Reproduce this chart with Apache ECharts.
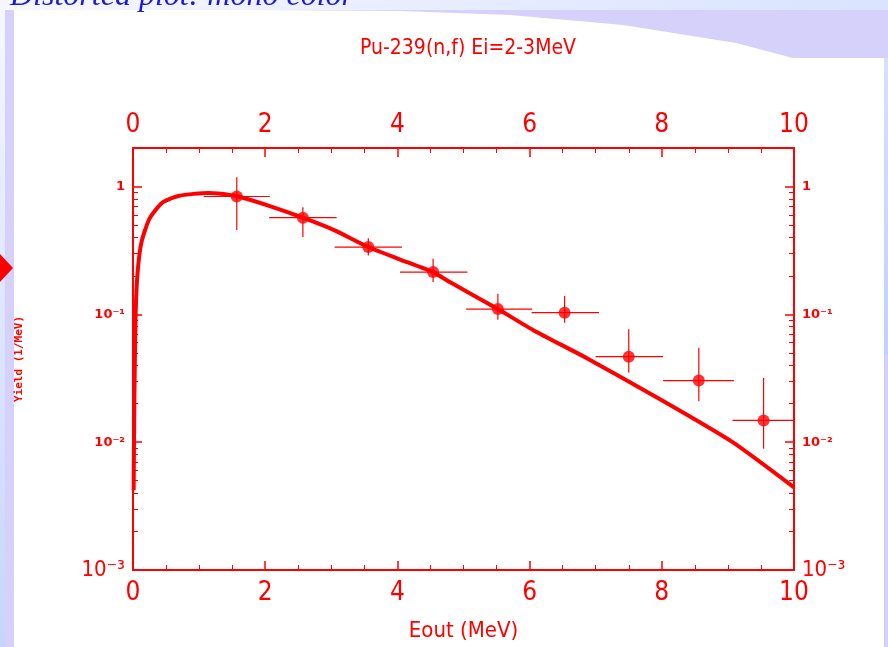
<!DOCTYPE html>
<html>
<head>
<meta charset="utf-8">
<title>Pu-239(n,f) Ei=2-3MeV</title>
<script src="https://cdn.jsdelivr.net/npm/echarts@6/dist/echarts.min.js"></script>
<style>
  html, body { margin: 0; padding: 0; }
  #chart { width: 888px; height: 647px; }
</style>
</head>
<body>
<div id="chart"></div>
<script>
// calculated spectrum (thick line)
const curveE = [0.01, 0.02, 0.04, 0.07, 0.13, 0.25, 0.44, 0.70, 1.14, 1.29, 1.59, 2.07, 2.57, 3.05, 3.56, 4.01, 4.54, 4.80, 5.52, 6.05, 6.86, 8.0, 9.06, 10.0];
const curveY = [0.0042, 0.0203, 0.1, 0.214, 0.37, 0.56, 0.745, 0.847, 0.89, 0.88, 0.835, 0.703, 0.57, 0.454, 0.336, 0.272, 0.214, 0.178, 0.110, 0.0755, 0.0455, 0.0213, 0.0101, 0.00443];

// measured points + error bars
const pointE = [1.57, 2.57, 3.56, 4.54, 5.52, 6.53, 7.5, 8.56, 9.54];
const pointY = [0.835, 0.57, 0.336, 0.214, 0.110, 0.103, 0.0466, 0.0303, 0.0148];
const pointYLow = [0.456, 0.403, 0.289, 0.179, 0.0906, 0.086, 0.035, 0.0209, 0.0089];
const pointYHigh = [1.18, 0.689, 0.394, 0.272, 0.145, 0.139, 0.0763, 0.0547, 0.0318];
const pointELow = [1.07, 2.06, 3.05, 4.04, 5.04, 6.03, 7.0, 8.02, 9.07];
const pointEHigh = [2.07, 3.08, 4.07, 5.06, 6.04, 7.05, 8.02, 9.09, 10.0];

// tick labels
const yDecades = [0.001, 0.01, 0.1, 1];
const yDecadeLabels = ['10⁻³', '10⁻²', '10⁻¹', '1'];

const RED = '#ff0000';
const NARROW = "'Liberation Sans Narrow', 'DejaVu Sans Condensed', sans-serif";

// 2..9 ticks inside every decade
let yMinor = [];
yDecades.forEach(function (d) {
  for (let k = 2; k <= 9; k++) {
    if (k * d <= 2) yMinor.push(+(k * d).toPrecision(3));
  }
});

function yLabel(value) {
  for (let i = 0; i < yDecades.length; i++) {
    if (Math.abs(value / yDecades[i] - 1) < 1e-6) {
      return i === 0 ? '{big|' + yDecadeLabels[i] + '}' : yDecadeLabels[i];
    }
  }
  return '';
}

function yAxisMajor(pos) {
  return {
    type: 'log',
    position: pos,
    min: 0.001,
    max: 2,
    axisLine: { show: true, lineStyle: { color: RED, width: 2 } },
    axisTick: { inside: true, length: 9, customValues: yDecades, lineStyle: { color: RED, width: 1.5 } },
    axisLabel: {
      customValues: yDecades,
      formatter: yLabel,
      color: RED,
      fontSize: 13,
      fontWeight: 'bold',
      fontFamily: 'DejaVu Sans',
      margin: 8,
      rich: { big: { fontSize: 22, fontWeight: 'normal', fontFamily: NARROW, color: RED } }
    },
    splitLine: { show: false }
  };
}

function yAxisMinor(pos) {
  return {
    type: 'log',
    position: pos,
    min: 0.001,
    max: 2,
    axisLine: { show: false },
    axisTick: { inside: true, length: 5, customValues: yMinor, lineStyle: { color: RED, width: 1 } },
    axisLabel: { show: false },
    splitLine: { show: false }
  };
}

function xAxisCfg(pos) {
  return {
    type: 'value',
    position: pos,
    min: 0,
    max: 10,
    interval: 2,
    axisLine: { show: true, lineStyle: { color: RED, width: 2 } },
    axisTick: { inside: true, length: 9, lineStyle: { color: RED, width: 1.5 } },
    minorTick: { show: true, splitNumber: 4, length: 5, lineStyle: { color: RED, width: 1 } },
    axisLabel: { color: RED, fontSize: 26, fontFamily: NARROW, margin: 10 },
    splitLine: { show: false }
  };
}

const chart = echarts.init(document.getElementById('chart'));

let xBottom = xAxisCfg('bottom');
xBottom.name = 'Eout (MeV)';
xBottom.nameLocation = 'middle';
xBottom.nameGap = 50;
xBottom.nameTextStyle = { color: RED, fontSize: 22, fontFamily: NARROW };

let yLeft = yAxisMajor('left');
yLeft.name = 'Yield (1/MeV)';
yLeft.nameLocation = 'middle';
yLeft.nameGap = 108;
yLeft.nameTextStyle = { color: RED, fontSize: 11, fontWeight: 'bold', fontFamily: 'DejaVu Sans Mono' };

chart.setOption({
  backgroundColor: {
    type: 'linear', x: 0, y: 0, x2: 0.3, y2: 1,
    colorStops: [{ offset: 0, color: '#f6f7ff' }, { offset: 1, color: '#bccfff' }]
  },
  animation: false,
  graphic: [
    { type: 'rect', z: -10, shape: { x: 14, y: 10, width: 870, height: 637 }, style: { fill: '#ffffff' } },
    { type: 'rect', z: -9, shape: { x: 5, y: 10, width: 9, height: 637 }, style: { fill: '#d6d1fb' } },
    { type: 'rect', z: -9, shape: { x: 885, y: 355, width: 3, height: 292 }, style: { fill: '#d6d1fb' } },
    {
      type: 'polygon', z: -9,
      shape: { points: [[253, 10], [888, 10], [888, 58], [793, 58], [736, 43], [623, 25], [510, 15], [400, 11]] },
      style: { fill: '#d6d1fb' }
    },
    {
      type: 'text', z: -8, x: 10, y: 13,
      style: { text: 'Distorted plot: mono color', fill: '#1a1ad6', font: 'italic 32px "Liberation Serif"', verticalAlign: 'bottom' }
    },
    { type: 'polygon', z: -8, shape: { points: [[-13, 268], [0, 254], [13, 268], [0, 282]] }, style: { fill: RED } }
  ],
  title: {
    text: 'Pu-239(n,f) Ei=2-3MeV',
    left: 463,
    top: 33,
    textAlign: 'center',
    textStyle: { color: RED, fontSize: 21, fontWeight: 'normal', fontFamily: NARROW }
  },
  grid: { left: 133, right: 94, top: 148, bottom: 76 },
  xAxis: [xBottom, xAxisCfg('top')],
  yAxis: [yLeft, yAxisMinor('left'), yAxisMajor('right'), yAxisMinor('right')],
  series: [
    {
      name: 'calc',
      type: 'line',
      data: curveE.map(function (e, i) { return [e, curveY[i]]; }),
      showSymbol: false,
      smooth: 0.2,
      lineStyle: { color: RED, width: 4 },
      z: 3
    },
    {
      name: 'errors',
      type: 'custom',
      data: pointE.map(function (e, i) {
        return [e, pointY[i], pointELow[i], pointEHigh[i], pointYLow[i], pointYHigh[i]];
      }),
      encode: { x: 0, y: 1 },
      renderItem: function (params, api) {
        const left = api.coord([api.value(2), api.value(1)]);
        const right = api.coord([api.value(3), api.value(1)]);
        const low = api.coord([api.value(0), api.value(4)]);
        const high = api.coord([api.value(0), api.value(5)]);
        const st = { stroke: RED, lineWidth: 1.2 };
        return {
          type: 'group',
          children: [
            { type: 'line', shape: { x1: left[0], y1: left[1], x2: right[0], y2: right[1] }, style: st },
            { type: 'line', shape: { x1: low[0], y1: low[1], x2: high[0], y2: high[1] }, style: st }
          ]
        };
      },
      z: 4
    },
    {
      name: 'data',
      type: 'scatter',
      data: pointE.map(function (e, i) { return [e, pointY[i]]; }),
      symbolSize: 12,
      itemStyle: { color: RED },
      z: 5
    }
  ]
});
</script>
</body>
</html>
